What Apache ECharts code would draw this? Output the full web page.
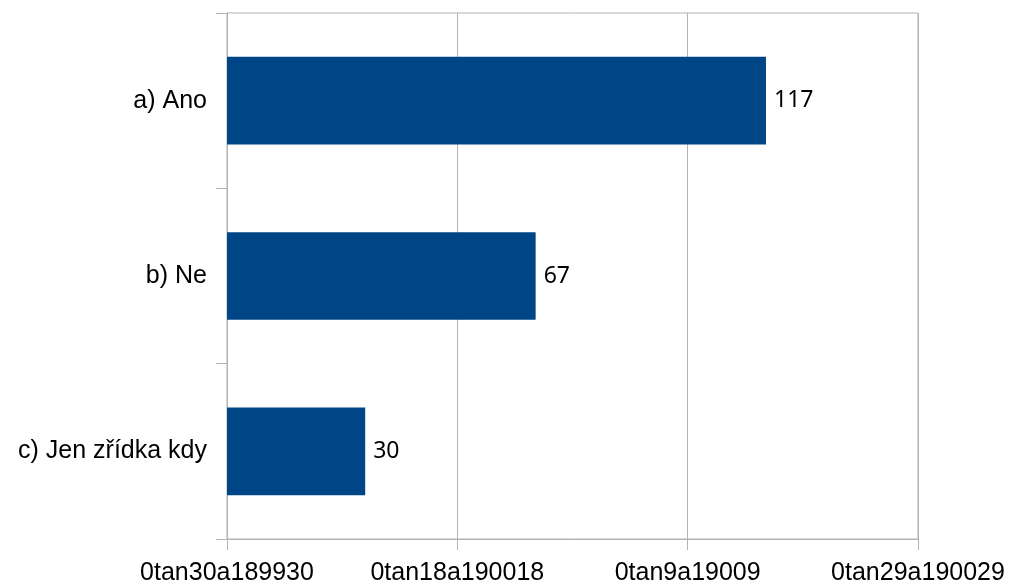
<!DOCTYPE html>
<html>
<head>
<meta charset="utf-8">
<script src="https://cdn.jsdelivr.net/npm/echarts@6/dist/echarts.min.js"></script>
<style>
  html, body { margin: 0; padding: 0; background: #fff; }
  #chart { width: 1009px; height: 588px; }
</style>
</head>
<body>
<div id="chart"></div>
<script>
// Answer categories, top to bottom
var categories = ['a) Ano', 'b) Ne', 'c) Jen zřídka kdy'];
// Number of responses per answer
var counts = [117, 67, 30];
// Value axis tick values and the labels printed under them
var tickValues = [0, 50, 100, 150];
var tickLabels = ['0tan30a189930', '0tan18a190018', '0tan9a19009', '0tan29a190029'];

var gridColor = '#b3b3b3';
var chart = echarts.init(document.getElementById('chart'), null, { renderer: 'canvas' });

chart.setOption({
  animation: false,
  backgroundColor: '#ffffff',
  grid: {
    left: 227, right: 91, top: 13, bottom: 49,
    show: true, borderColor: gridColor, borderWidth: 1,
    containLabel: false
  },
  xAxis: {
    type: 'value',
    min: tickValues[0],
    max: tickValues[tickValues.length - 1],
    interval: tickValues[1] - tickValues[0],
    axisLine: { show: true, lineStyle: { color: gridColor, width: 1 } },
    axisTick: { show: true, length: 11, lineStyle: { color: gridColor } },
    splitLine: { show: true, lineStyle: { color: gridColor, width: 1 } },
    axisLabel: {
      margin: 22,
      color: '#000',
      fontFamily: 'Liberation Sans',
      fontSize: 25,
      formatter: function (v) {
        var i = tickValues.indexOf(v);
        return i >= 0 ? tickLabels[i] : '';
      }
    }
  },
  yAxis: {
    type: 'category',
    data: categories,
    inverse: true,
    axisLine: { show: true, lineStyle: { color: gridColor, width: 1 } },
    axisTick: { show: true, length: 11, lineStyle: { color: gridColor } },
    splitLine: { show: false },
    axisLabel: {
      margin: 20,
      color: '#000',
      fontFamily: 'Liberation Sans',
      fontSize: 25
    }
  },
  series: [{
    type: 'bar',
    data: counts,
    barWidth: '50%',
    itemStyle: { color: '#004586' },
    label: {
      show: true,
      position: 'right',
      distance: 8,
      color: '#000',
      fontFamily: 'Noto Sans',
      fontSize: 23
    }
  }]
});
</script>
</body>
</html>
